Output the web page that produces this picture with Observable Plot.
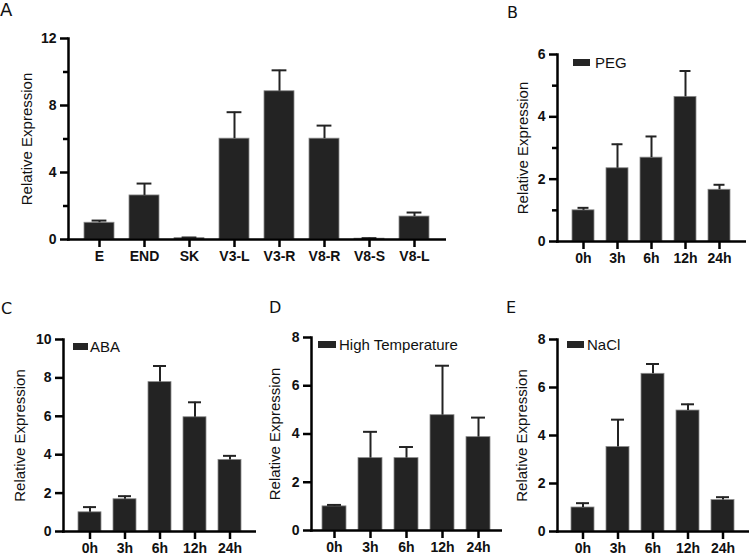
<!DOCTYPE html>
<html>
<head>
<meta charset="utf-8">
<script src="https://cdn.jsdelivr.net/npm/d3@7"></script>
<script src="https://cdn.jsdelivr.net/npm/@observablehq/plot@0.6"></script>
<style>
  body { margin: 0; background: #fff; }
  #fig { position: relative; width: 750px; height: 556px; overflow: hidden; font-family: "Liberation Sans", Arial, sans-serif; color: #111; }
  #fig svg { position: absolute; }
  .letter { position: absolute; font-family: "DejaVu Sans", sans-serif; line-height: 1; color: #111; }
  .legend { position: absolute; display: flex; align-items: center; height: 16px; font-size: 15px; line-height: 1; color: #111; white-space: nowrap; }
  .legend i { display: inline-block; height: 7px; background: #252525; }
</style>
</head>
<body>
<div id="fig"></div>
<script>
// Tissue expression (panel A)
const tissues = ["E", "END", "SK", "V3-L", "V3-R", "V8-R", "V8-S", "V8-L"];
const tissueMean = [1.0, 2.63, 0.08, 6.02, 8.85, 6.02, 0.05, 1.37];
const tissueUpper = [1.13, 3.34, 0.12, 7.6, 10.1, 6.8, 0.08, 1.61];

// Stress time courses (panels B–E)
const hours = ["0h", "3h", "6h", "12h", "24h"];
const pegMean = [1.0, 2.35, 2.69, 4.64, 1.66];
const pegUpper = [1.08, 3.12, 3.37, 5.47, 1.82];
const abaMean = [1.0, 1.68, 7.78, 5.95, 3.73];
const abaUpper = [1.27, 1.84, 8.62, 6.73, 3.94];
const heatMean = [1.0, 3.0, 3.0, 4.78, 3.87];
const heatUpper = [1.06, 4.09, 3.46, 6.83, 4.68];
const naclMean = [1.0, 3.52, 6.57, 5.04, 1.31];
const naclUpper = [1.18, 4.66, 6.98, 5.30, 1.43];

const yTitle = "Relative Expression";
const ink = "#111";
const axisInk = "#000";
const barFill = "#232323";

const fig = document.getElementById("fig");

function panel(o) {
  const rows = o.cats.map((c, i) => ({cat: c, mean: o.mean[i], upper: o.upper[i]}));
  // bandwidth of the x band scale, used to size the error-bar caps
  const inner = o.width - o.ml - o.mr;
  const step = inner / (o.cats.length - o.pi + 2 * o.po);
  const bw = step * (1 - o.pi);
  const inset = Math.max(0, (bw - o.cap) / 2);

  const marks = [
    Plot.barY(rows, {x: "cat", y: "mean", fill: barFill, stroke: "#8a8a8a", strokeWidth: 0.8}),
    Plot.ruleX(rows, {x: "cat", y1: "mean", y2: "upper", stroke: barFill, strokeWidth: 2}),
    Plot.tickY(rows, {x: "cat", y: "upper", stroke: barFill, strokeWidth: 2, insetLeft: inset, insetRight: inset}),
    // axis lines
    Plot.frame({anchor: "left", stroke: axisInk, strokeWidth: 2.5}),
    Plot.ruleY([0], {stroke: axisInk, strokeWidth: 2.5, insetLeft: -1}),
    Plot.axisY({ticks: o.major, tickSize: 8, tickPadding: 4, stroke: axisInk, strokeWidth: 2.5, fontSize: 14, fontWeight: "bold",
                tickFormat: d => String(d), label: null}),
    Plot.axisX({tickSize: 8, tickPadding: 4, stroke: axisInk, strokeWidth: 2.5, fontSize: 14, fontWeight: "bold", label: null}),
    Plot.text([yTitle], {text: d => d, frameAnchor: "left", textAnchor: "middle", lineAnchor: "middle",
                         rotate: -90, dx: -o.labelDx, fontSize: 15, fill: ink})
  ];
  if (o.minor) {
    marks.push(Plot.axisY({ticks: o.minor, tickSize: 5, stroke: axisInk, strokeWidth: 2.5, tickFormat: () => "", label: null}));
  }

  const svg = Plot.plot({
    width: o.width,
    height: o.height,
    marginLeft: o.ml,
    marginRight: o.mr,
    marginTop: o.mt,
    marginBottom: o.mb,
    style: {background: "transparent", color: ink, fontFamily: "'Liberation Sans', Arial, sans-serif", overflow: "visible"},
    x: {domain: o.cats, paddingInner: o.pi, paddingOuter: o.po, label: null},
    y: {domain: [0, o.yMax], label: null},
    marks
  });
  svg.style.left = o.left + "px";
  svg.style.top = o.top + "px";
  fig.appendChild(svg);

  const letter = document.createElement("div");
  letter.className = "letter";
  letter.textContent = o.letter;
  letter.style.left = o.letterPos[0] + "px";
  letter.style.top = o.letterPos[1] + "px";
  letter.style.fontSize = o.letterSize + "px";
  fig.appendChild(letter);

  if (o.legend) {
    const lg = document.createElement("div");
    lg.className = "legend";
    lg.style.left = o.legend.x + "px";
    lg.style.top = (o.legend.cy - 8) + "px";
    const sw = document.createElement("i");
    sw.style.width = o.legend.w + "px";
    sw.style.marginRight = o.legend.gap + "px";
    lg.appendChild(sw);
    lg.appendChild(document.createTextNode(o.legend.text));
    fig.appendChild(lg);
  }
}

panel({
  letter: "A", letterPos: [0, 1], letterSize: 18,
  cats: tissues, mean: tissueMean, upper: tissueUpper,
  left: 0, top: 0, width: 470, height: 275, ml: 68, mr: 24, mt: 38, mb: 36,
  pi: 0.33, po: 0.36, cap: 15, yMax: 12, major: [0, 4, 8, 12], minor: [2, 6, 10], labelDx: 41
});

panel({
  letter: "B", letterPos: [507, 5], letterSize: 16,
  cats: hours, mean: pegMean, upper: pegUpper,
  left: 480, top: 0, width: 270, height: 275, ml: 77, mr: 4, mt: 54, mb: 34,
  pi: 0.34, po: 0.38, cap: 12, yMax: 6, major: [0, 2, 4, 6], minor: [1, 3, 5], labelDx: 34,
  legend: {text: "PEG", x: 573, cy: 62, w: 17, gap: 5}
});

panel({
  letter: "C", letterPos: [1, 301], letterSize: 16,
  cats: hours, mean: abaMean, upper: abaUpper,
  left: 0, top: 280, width: 260, height: 276, ml: 63, mr: 4, mt: 59, mb: 25,
  pi: 0.33, po: 0.36, cap: 14, yMax: 10, major: [0, 2, 4, 6, 8, 10], labelDx: 43,
  legend: {text: "ABA", x: 73, cy: 346, w: 15, gap: 2}
});

panel({
  letter: "D", letterPos: [269, 300], letterSize: 16,
  cats: hours, mean: heatMean, upper: heatUpper,
  left: 250, top: 280, width: 255, height: 276, ml: 61, mr: 3, mt: 57, mb: 26,
  pi: 0.333, po: 0.314, cap: 14, yMax: 8, major: [0, 2, 4, 6, 8], labelDx: 36,
  legend: {text: "High Temperature", x: 318, cy: 344, w: 18, gap: 3}
});

panel({
  letter: "E", letterPos: [506, 300], letterSize: 16,
  cats: hours, mean: naclMean, upper: naclUpper,
  left: 490, top: 280, width: 260, height: 276, ml: 67, mr: 1, mt: 59, mb: 25,
  pi: 0.333, po: 0.34, cap: 14, yMax: 8, major: [0, 2, 4, 6, 8], labelDx: 35,
  legend: {text: "NaCl", x: 567, cy: 344, w: 17, gap: 3}
});
</script>
</body>
</html>
